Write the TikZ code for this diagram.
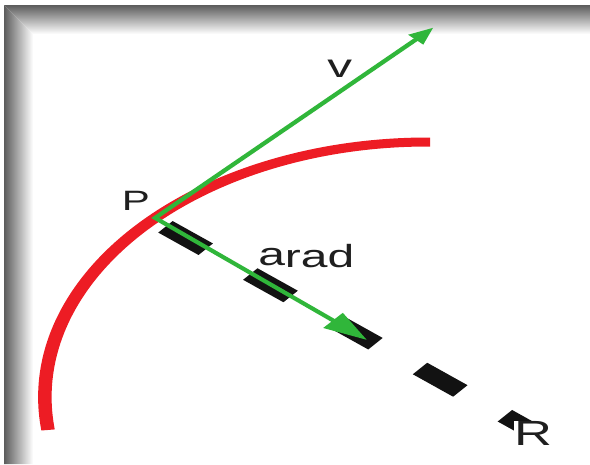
\documentclass[tikz,border=0pt]{standalone}
\usepackage{fontspec}
\setmainfont{Liberation Sans}
\usetikzlibrary{arrows.meta}
\definecolor{arcred}{RGB}{237,28,36}
\definecolor{vgreen}{RGB}{48,182,58}
\begin{document}
\begin{tikzpicture}[x=1pt,y=-1pt,
  redarc/.style={draw=arcred, line width=9pt},
  dashline/.style={draw=black!93, line width=15pt, dash pattern=on 35pt off 38.7pt},
  vec/.style={draw=vgreen, line width=3.6pt},
  lbl/.style={inner sep=0pt, anchor=base west, text=black!88}]
\useasboundingbox (0,0) rectangle (590,464);
\fill[white] (0,0) rectangle (590,464);
% shadow frame
\shade[left color=black!64, middle color=black!34, right color=white]
  (4,5) -- (33,34) -- (33,464) -- (4,464) -- cycle;
\shade[top color=black!64, middle color=black!34, bottom color=white]
  (4,5) -- (590,5) -- (590,34) -- (33,34) -- cycle;
\begin{scope}[transform canvas={xscale=1.5}]
  \coordinate (O) at (285,397.1);
  \coordinate (P) at (103.4,217.9);
  \coordinate (vt) at (289,27.5);
  \coordinate (at) at (244.7,340);
  \coordinate (S) at (110.3,226.8);
  \coordinate (E) at (352,428.6);
  % red path
  \draw[redarc] (O) ++(172.6:255.1) arc[start angle=172.6, end angle=270.4, radius=255.1];
  % radius (dashed)
  \draw[dashline] (S) -- (E);
  % vectors
  \draw[vec, {Triangle[length=17pt,width=13pt]}-{Triangle[length=30pt,width=19pt]}]
    (vt) -- (P) -- (at);
  % labels
  \node[lbl, font=\fontsize{28pt}{30pt}\selectfont] (Plbl) at (81,210) {P};
  \node[lbl, font=\fontsize{33pt}{35pt}\selectfont] (vlbl) at (218,77) {v};
  \node[lbl, font=\fontsize{32pt}{34pt}\selectfont] (albl) at (172,265) {a\raisebox{-2pt}{rad}};
  \node[lbl, fill=white, font=\fontsize{35pt}{37pt}\selectfont] (Rlbl) at (342.5,445) {R};
\end{scope}
\end{tikzpicture}
\end{document}
